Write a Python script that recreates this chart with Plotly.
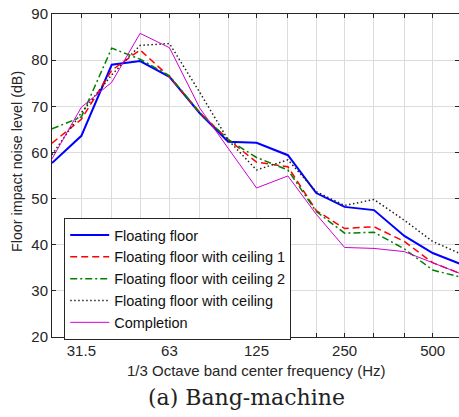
import plotly.graph_objects as go
import math

freqs = [25, 31.5, 40, 50, 63, 80, 100, 125, 160, 200, 250, 315, 400, 500, 630]
tick_labels = ["", "31.5", "", "", "63", "", "", "125", "", "", "250", "", "", "500", ""]

floating_floor = [57.7, 63.6, 79.0, 79.8, 76.4, 68.5, 62.3, 62.1, 59.4, 51.2, 48.2, 47.5, 41.9, 38.2, 35.7]
ceiling_1 = [62.0, 67.2, 77.8, 82.2, 76.4, 68.6, 62.8, 57.9, 56.9, 47.4, 43.5, 43.9, 40.7, 36.1, 33.6]
ceiling_2 = [65.1, 67.7, 82.6, 80.2, 76.6, 68.6, 62.8, 58.9, 56.2, 47.2, 42.5, 42.7, 39.1, 34.5, 32.9]
ceiling = [59.5, 68.6, 76.8, 83.2, 83.6, 73.0, 62.7, 56.2, 58.4, 51.5, 48.5, 49.8, 45.3, 40.7, 37.9]
completion = [58.6, 69.8, 75.2, 85.8, 82.7, 69.6, 60.9, 52.3, 54.9, 46.6, 39.4, 39.2, 38.5, 36.0, 33.6]

series = [
    ("Floating floor", floating_floor, "#0000ff", "solid", 2),
    ("Floating floor with ceiling 1", ceiling_1, "#ff0000", "7px,4px", 1.5),
    ("Floating floor with ceiling 2", ceiling_2, "#008000", "7px,3px,2px,3px", 1.5),
    ("Floating floor with ceiling", ceiling, "#222222", "1.5px,2.5px", 1.5),
    ("Completion", completion, "#d000d0", "solid", 1),
]

fig = go.Figure()
for name, vals, color, dash, w in series:
    fig.add_trace(go.Scatter(x=freqs, y=vals, mode="lines", name=name,
                             line=dict(color=color, dash=dash, width=w)))

font = "Liberation Sans, Arial, sans-serif"
tc = "#262626"
fig.update_layout(
    width=459, height=417,
    margin=dict(l=52, r=0, t=14, b=80),
    paper_bgcolor="white", plot_bgcolor="white",
    font=dict(family=font, size=15, color=tc),
    showlegend=True,
    legend=dict(x=0.03, y=(337 - 218) / 323, xanchor="left", yanchor="top",
                bgcolor="white", bordercolor="#262626", borderwidth=1,
                font=dict(family=font, size=14.5, color="#111111"),
                tracegroupgap=0, itemwidth=39),
    xaxis=dict(type="log", range=[math.log10(25), math.log10(615)],
               tickvals=freqs, ticktext=tick_labels, ticks="inside", ticklen=4,
               tickcolor="#262626", showline=True, linecolor="#262626", linewidth=1,
               mirror="ticks", showgrid=True, gridcolor="#dcdcdc", gridwidth=1,
               zeroline=False, tickfont=dict(size=15, color=tc)),
    yaxis=dict(range=[20, 90], tickvals=[20, 30, 40, 50, 60, 70, 80, 90],
               ticks="inside", ticklen=4, tickcolor="#262626",
               showline=True, linecolor="#262626", linewidth=1, mirror="ticks",
               showgrid=True, gridcolor="#dcdcdc", gridwidth=1, zeroline=False,
               tickfont=dict(size=15, color=tc)),
    annotations=[
        dict(text="1/3 Octave band center frequency (Hz)", xref="paper", yref="paper",
             x=0.5, y=(337 - 371) / 323, xanchor="center", yanchor="middle",
             showarrow=False, font=dict(family=font, size=15, color=tc)),
        dict(text="Floor impact noise level (dB)", xref="paper", yref="paper",
             x=(17 - 52) / 407, y=(337 - 162) / 323, xanchor="center", yanchor="middle",
             textangle=-90, showarrow=False, font=dict(family=font, size=14.3, color=tc)),
        dict(text="(a) Bang-machine", xref="paper", yref="paper",
             x=(246.5 - 52) / 407, y=(337 - 397) / 323, xanchor="center", yanchor="middle",
             showarrow=False, font=dict(family="DejaVu Serif, serif", size=22, color="#222222")),
    ],
)

fig.write_html("out.html")
